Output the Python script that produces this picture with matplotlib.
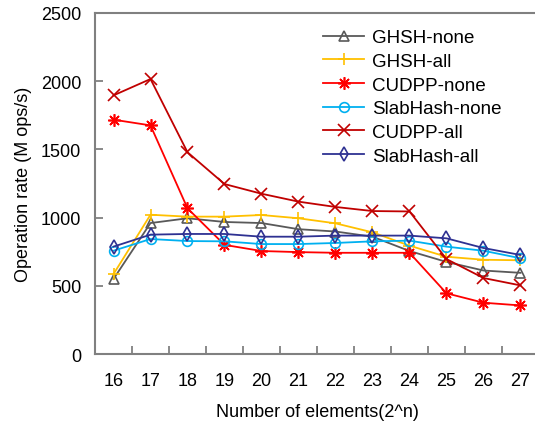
import matplotlib
matplotlib.use("Agg")
import matplotlib.pyplot as plt
import numpy as np

plt.rcParams['font.family'] = ['Liberation Sans', 'DejaVu Sans']

n_values = [16, 17, 18, 19, 20, 21, 22, 23, 24, 25, 26, 27]

ghsh_none = [550, 960, 995, 968, 960, 915, 898, 860, 755, 675, 612, 595]
ghsh_all = [586, 1021, 1007, 1007, 1019, 995, 958, 892, 794, 713, 691, 687]
cudpp_none = [1718, 1676, 1068, 800, 755, 747, 742, 742, 742, 445, 376, 356]
slab_none = [757, 843, 828, 826, 806, 806, 814, 826, 831, 787, 757, 702]
cudpp_all = [1896, 2016, 1479, 1246, 1175, 1117, 1078, 1048, 1045, 696, 557, 503]
slab_all = [787, 875, 880, 880, 860, 860, 868, 868, 868, 848, 777, 726]

# label, values, colour, marker, marker size, hollow
series = [
    ("GHSH-none", ghsh_none, "#595959", "^", 7, True),
    ("GHSH-all", ghsh_all, "#FFC000", "+", 9, False),
    ("CUDPP-none", cudpp_none, "#FF0000", (8, 2, 0), 9, False),
    ("SlabHash-none", slab_none, "#00B0F0", "o", 7, True),
    ("CUDPP-all", cudpp_all, "#C00000", "x", 8, False),
    ("SlabHash-all", slab_all, "#2E3192", "d", 7, True),
]

W, H = 535, 427
fig = plt.figure(figsize=(W / 100, H / 100), dpi=100)
left, right, top, bottom = 95, 539, 14, 355
ax = fig.add_axes([left / W, 1 - bottom / H, (right - left) / W, (bottom - top) / H])

x = np.arange(len(n_values))
for label, vals, color, marker, ms, hollow in series:
    kw = dict(color=color, marker=marker, markersize=ms, linewidth=1.3,
              markeredgewidth=1.2, label=label)
    if hollow:
        kw["markerfacecolor"] = "none"
    ax.plot(x, vals, **kw)

ax.set_xlim(-0.5, len(n_values) - 0.5)
ax.set_ylim(0, 2500)
ax.set_yticks([0, 500, 1000, 1500, 2000, 2500])
ax.set_xticks(x)
ax.set_xticklabels([str(v) for v in n_values])
ax.set_xticks(np.arange(0.5, len(n_values) - 0.5, 1), minor=True)

ax.tick_params(axis='x', which='major', length=0, pad=13, labelsize=13)
ax.tick_params(axis='x', which='minor', direction='in', length=6, width=1.3, color="#808080")
ax.tick_params(axis='y', direction='in', length=6, width=1.3, color="#808080", pad=10, labelsize=13)

for s in ax.spines.values():
    s.set_color("#808080")
    s.set_linewidth(1.5)

ax.set_xlabel("Number of elements(2^n)", fontsize=13, labelpad=10)
ax.set_ylabel("Operation rate (M ops/s)", fontsize=13, labelpad=6)

leg = ax.legend(loc='upper left', bbox_to_anchor=(0.497, 0.975), frameon=False,
                fontsize=13.5, handlelength=2.2, handletextpad=0.4, labelspacing=0.35,
                borderaxespad=0)

fig.savefig("out.png", dpi=100)
